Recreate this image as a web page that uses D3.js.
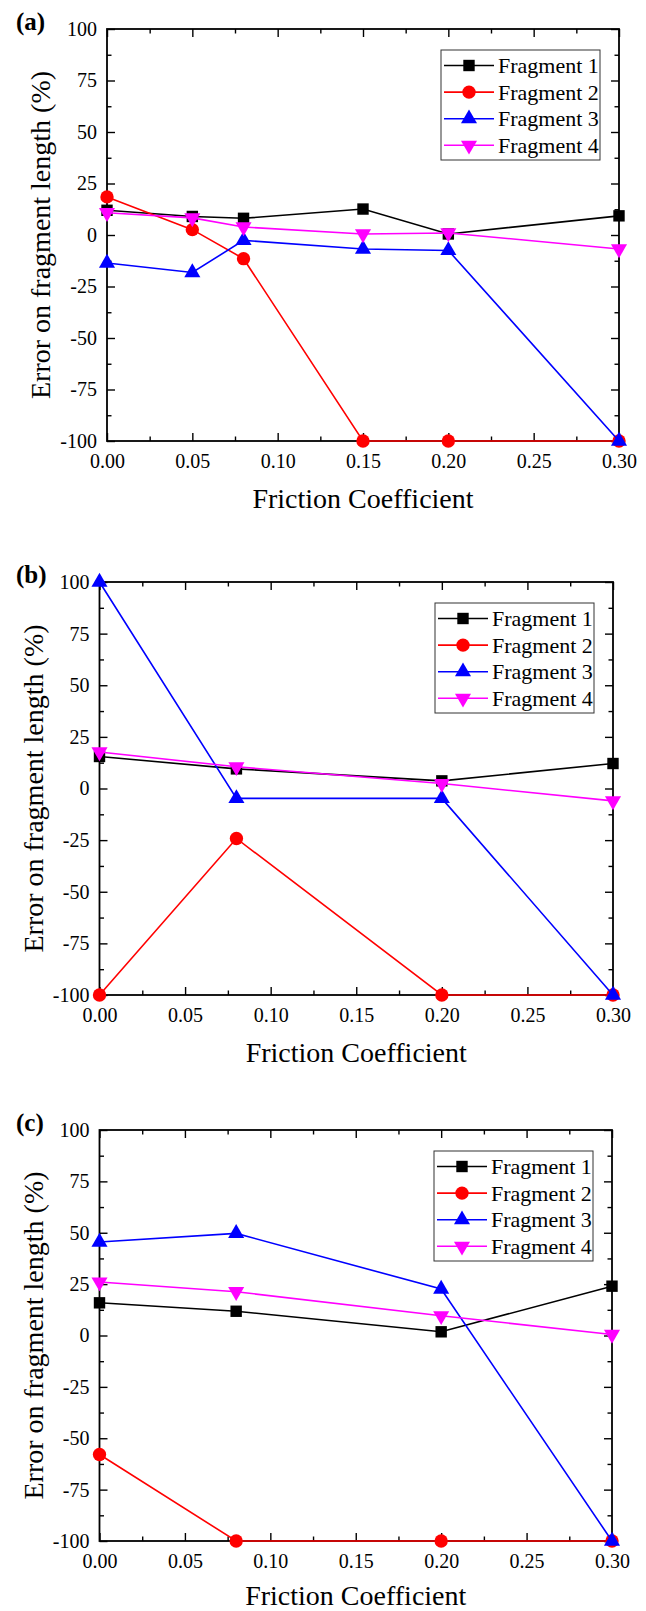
<!DOCTYPE html>
<html>
<head>
<meta charset="utf-8">
<script src="https://cdn.jsdelivr.net/npm/d3@7"></script>
<style>
  body { margin: 0; background: #fff; }
  text { font-family: "Liberation Serif", "Times New Roman", serif; }
</style>
</head>
<body>
<div id="chart"></div>
<script>
// values (error on fragment length, %)
var seriesNames = ["Fragment 1", "Fragment 2", "Fragment 3", "Fragment 4"];
var xTicks = [0, 0.05, 0.10, 0.15, 0.20, 0.25, 0.30];
var yTicks = [-100, -75, -50, -25, 0, 25, 50, 75, 100];

// panel (a)
var frictionA = [0, 0.05, 0.08, 0.15, 0.20, 0.30];
var fragA1 = [12.0, 9.0, 8.1, 12.6, 0.5, 9.3];
var fragA2 = [18.5, 2.6, -11.5, -100, -100, -100];
var fragA3 = [-13.6, -18.2, -2.6, -6.8, -7.5, -100];
var fragA4 = [10.8, 8.3, 3.9, 0.5, 1.0, -6.8];

// panel (b)
var frictionB = [0, 0.08, 0.20, 0.30];
var fragB1 = [15.5, 9.5, 3.7, 12.1];
var fragB2 = [-100, -24.2, -100, -100];
var fragB3 = [100, -4.8, -4.8, -100];
var fragB4 = [17.7, 10.5, 2.4, -6.0];

// panel (c)
var frictionC = [0, 0.08, 0.20, 0.30];
var fragC1 = [15.9, 11.8, 1.8, 24.0];
var fragC2 = [-57.9, -100, -100, -100];
var fragC3 = [45.5, 49.7, 22.6, -100];
var fragC4 = [26.0, 21.3, 9.6, 0.5];

var colors = ["#000000", "#ff0000", "#0000ff", "#ff00ff"];
var symbols = [d3.symbolSquare, d3.symbolCircle, d3.symbolTriangle, d3.symbolTriangle];
var symbolSize = [130, 140, 112, 112];
var symbolRot = [0, 0, 0, 180];
var serif = "'Liberation Serif', 'Times New Roman', serif";

var width = 646, height = 1611;

var svg = d3.select("#chart").append("svg")
    .attr("width", width)
    .attr("height", height);

// panel boxes (plot area in pixels)
var panels = [
  { label: "(a)", x: frictionA, ys: [fragA1, fragA2, fragA3, fragA4], left: 107, right: 619, top: 29, bottom: 441 },
  { label: "(b)", x: frictionB, ys: [fragB1, fragB2, fragB3, fragB4], left: 99.5, right: 613, top: 582, bottom: 995 },
  { label: "(c)", x: frictionC, ys: [fragC1, fragC2, fragC3, fragC4], left: 99.5, right: 612, top: 1130, bottom: 1541 }
];

function minorsOf(ticks) {
  var out = [];
  for (var i = 0; i < ticks.length - 1; i++) out.push((ticks[i] + ticks[i + 1]) / 2);
  return out;
}

panels.forEach(function(p) {
  var g = svg.append("g");

  var x = d3.scaleLinear().domain([0, 0.3]).range([p.left, p.right]);
  var y = d3.scaleLinear().domain([-100, 100]).range([p.bottom, p.top]);

  var xMinor = minorsOf(xTicks);
  var yMinor = minorsOf(yTicks);

  // bottom axis with labels, ticks pointing inward
  g.append("g").attr("transform", "translate(0," + p.bottom + ")")
    .call(d3.axisBottom(x).tickValues(xTicks).tickSizeInner(-8).tickSizeOuter(0)
      .tickPadding(12.5).tickFormat(d3.format(".2f")))
    .call(styleAxis);
  g.append("g").attr("transform", "translate(0," + p.bottom + ")")
    .call(d3.axisBottom(x).tickValues(xMinor).tickSizeInner(-4.5).tickSizeOuter(0).tickFormat(""))
    .call(styleAxis);
  // top axis (ticks only)
  g.append("g").attr("transform", "translate(0," + p.top + ")")
    .call(d3.axisTop(x).tickValues(xTicks).tickSizeInner(-8).tickSizeOuter(0).tickFormat(""))
    .call(styleAxis);
  g.append("g").attr("transform", "translate(0," + p.top + ")")
    .call(d3.axisTop(x).tickValues(xMinor).tickSizeInner(-4.5).tickSizeOuter(0).tickFormat(""))
    .call(styleAxis);

  // left axis with labels
  g.append("g").attr("transform", "translate(" + p.left + ",0)")
    .call(d3.axisLeft(y).tickValues(yTicks).tickSizeInner(-8).tickSizeOuter(0)
      .tickPadding(10).tickFormat(function(d) { return String(d); }))
    .call(styleAxis);
  g.append("g").attr("transform", "translate(" + p.left + ",0)")
    .call(d3.axisLeft(y).tickValues(yMinor).tickSizeInner(-4.5).tickSizeOuter(0).tickFormat(""))
    .call(styleAxis);
  // right axis (ticks only)
  g.append("g").attr("transform", "translate(" + p.right + ",0)")
    .call(d3.axisRight(y).tickValues(yTicks).tickSizeInner(-8).tickSizeOuter(0).tickFormat(""))
    .call(styleAxis);
  g.append("g").attr("transform", "translate(" + p.right + ",0)")
    .call(d3.axisRight(y).tickValues(yMinor).tickSizeInner(-4.5).tickSizeOuter(0).tickFormat(""))
    .call(styleAxis);

  // frame
  g.append("rect")
    .attr("x", p.left).attr("y", p.top)
    .attr("width", p.right - p.left).attr("height", p.bottom - p.top)
    .attr("fill", "none").attr("stroke", "#000").attr("stroke-width", 1.8);

  // axis titles (keep the last one inside the page)
  g.append("text")
    .attr("x", (p.left + p.right) / 2)
    .attr("y", Math.min(p.bottom + 67, height - 6))
    .attr("text-anchor", "middle")
    .style("font-family", serif)
    .style("font-size", "28px")
    .text("Friction Coefficient");

  g.append("text")
    .attr("transform", "translate(" + (p.left - 57) + "," + ((p.top + p.bottom) / 2) + ") rotate(-90)")
    .attr("text-anchor", "middle")
    .style("font-family", serif)
    .style("font-size", "28px")
    .text("Error on fragment length (%)");

  // panel label
  g.append("text")
    .attr("x", 16).attr("y", p.top + 1)
    .style("font-family", serif)
    .style("font-size", "25px").style("font-weight", "bold")
    .text(p.label);

  // series
  var line = d3.line()
    .x(function(d) { return x(d[0]); })
    .y(function(d) { return y(d[1]); });

  p.ys.forEach(function(vals, i) {
    var pts = p.x.map(function(v, j) { return [v, vals[j]]; });
    g.append("path")
      .datum(pts)
      .attr("fill", "none")
      .attr("stroke", colors[i])
      .attr("stroke-width", 1.6)
      .attr("d", line);
    g.selectAll(".m" + i)
      .data(pts)
      .enter().append("path")
      .attr("class", "m" + i)
      .attr("d", d3.symbol().type(symbols[i]).size(symbolSize[i]))
      .attr("transform", function(d) {
        return "translate(" + x(d[0]) + "," + y(d[1]) + ") rotate(" + symbolRot[i] + ")";
      })
      .attr("fill", colors[i]);
  });

  // legend
  var lw = 159, lh = 110;
  var lx = p.right - 19 - lw, ly = p.top + 21;
  var leg = g.append("g").attr("transform", "translate(" + lx + "," + ly + ")");
  leg.append("rect")
    .attr("width", lw).attr("height", lh)
    .attr("fill", "#fff").attr("stroke", "#333").attr("stroke-width", 1);
  seriesNames.forEach(function(name, i) {
    var cy = 15.5 + i * 26.6;
    leg.append("line")
      .attr("x1", 3).attr("x2", 53).attr("y1", cy).attr("y2", cy)
      .attr("stroke", colors[i]).attr("stroke-width", 1.6);
    leg.append("path")
      .attr("d", d3.symbol().type(symbols[i]).size(symbolSize[i]))
      .attr("transform", "translate(28," + cy + ") rotate(" + symbolRot[i] + ")")
      .attr("fill", colors[i]);
    leg.append("text")
      .attr("x", 57).attr("y", cy).attr("dy", "0.35em")
      .style("font-family", serif)
      .style("font-size", "22px")
      .text(name);
  });
});

function styleAxis(sel) {
  sel.attr("font-family", serif).attr("font-size", 20);
  sel.select(".domain").remove();
  sel.selectAll(".tick line").attr("stroke", "#000").attr("stroke-width", 1.4);
  sel.selectAll(".tick text")
    .attr("fill", "#000")
    .style("font-family", serif)
    .style("font-size", "20px");
}
</script>
</body>
</html>
